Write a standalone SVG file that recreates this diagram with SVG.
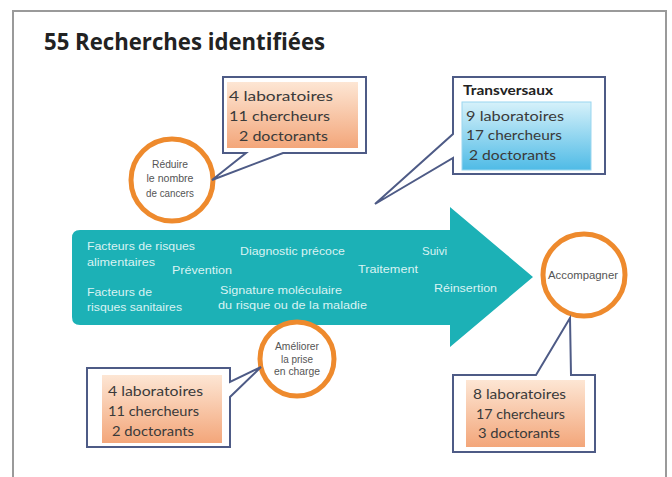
<svg xmlns="http://www.w3.org/2000/svg" width="672" height="477" viewBox="0 0 672 477">
<defs>
<linearGradient id="gOr" x1="0" y1="0" x2="0" y2="1">
<stop offset="0" stop-color="#fde6d4"/>
<stop offset="1" stop-color="#f3a67a"/>
</linearGradient>
<linearGradient id="gBl" x1="0" y1="0" x2="0" y2="1">
<stop offset="0" stop-color="#d6f1fa"/>
<stop offset="1" stop-color="#4fbbe6"/>
</linearGradient>
<style>
.frame{fill:#fff;stroke:#9a9a9a;stroke-width:2}
.call{fill:#fff;stroke:#4e5b86;stroke-width:2;stroke-linejoin:miter}
.bt{font-family:Lato,"Liberation Sans",sans-serif;font-size:14px;fill:#3a3a3a}
.at{font-family:"Liberation Sans",Arial,sans-serif;font-size:11px;fill:#d9f3f3}
.ct{font-family:"Liberation Sans",Arial,sans-serif;font-size:10px;fill:#555;text-anchor:middle}
.circ{fill:#fff;stroke:#ee8a2d;stroke-width:5}
</style>
</defs>
<rect x="0" y="0" width="672" height="477" fill="#fff"/>
<rect class="frame" x="13" y="11" width="653" height="480"/>
<text x="44" y="50" font-family="'Open Sans','Liberation Sans',sans-serif" font-weight="bold" font-size="23" fill="#222" textLength="281" lengthAdjust="spacingAndGlyphs">55 Recherches identifiées</text>

<g id="arrow">
<path d="M80,230 H450 V207 L533,277 L450,347 V325 H80 Q72,325 72,317 V238 Q72,230 80,230 Z" fill="#1cb1b6"/>
<text class="at" x="87" y="250" textLength="108" lengthAdjust="spacingAndGlyphs">Facteurs de risques</text>
<text class="at" x="87" y="266" textLength="68" lengthAdjust="spacingAndGlyphs">alimentaires</text>
<text class="at" x="172" y="274" textLength="60" lengthAdjust="spacingAndGlyphs">Prévention</text>
<text class="at" x="87" y="296" textLength="65" lengthAdjust="spacingAndGlyphs">Facteurs de</text>
<text class="at" x="87" y="311" textLength="95" lengthAdjust="spacingAndGlyphs">risques sanitaires</text>
<text class="at" x="240" y="255" textLength="105" lengthAdjust="spacingAndGlyphs">Diagnostic précoce</text>
<text class="at" x="220" y="294" textLength="122" lengthAdjust="spacingAndGlyphs">Signature moléculaire</text>
<text class="at" x="218" y="309" textLength="149" lengthAdjust="spacingAndGlyphs">du risque ou de la maladie</text>
<text class="at" x="358" y="273" textLength="60" lengthAdjust="spacingAndGlyphs">Traitement</text>
<text class="at" x="422" y="255" textLength="25" lengthAdjust="spacingAndGlyphs">Suivi</text>
<text class="at" x="434" y="292" textLength="63" lengthAdjust="spacingAndGlyphs">Réinsertion</text>
</g>

<g id="circle-reduire">
<circle class="circ" cx="172" cy="180" r="41"/>
<text class="ct" x="170" y="168" textLength="36" lengthAdjust="spacingAndGlyphs">Réduire</text>
<text class="ct" x="170" y="182" textLength="47" lengthAdjust="spacingAndGlyphs">le nombre</text>
<text class="ct" x="170" y="197" textLength="48" lengthAdjust="spacingAndGlyphs">de cancers</text>
</g>

<g id="circle-ameliorer">
<circle class="circ" cx="297" cy="359" r="37"/>
<text class="ct" x="297" y="350" textLength="44" lengthAdjust="spacingAndGlyphs">Améliorer</text>
<text class="ct" x="297" y="363" textLength="32" lengthAdjust="spacingAndGlyphs">la prise</text>
<text class="ct" x="297" y="375" textLength="46" lengthAdjust="spacingAndGlyphs">en charge</text>
</g>

<g id="circle-accompagner">
<circle class="circ" cx="584" cy="275" r="41"/>
<text class="ct" x="583" y="279" textLength="70" lengthAdjust="spacingAndGlyphs" fill="#333">Accompagner</text>
</g>

<g id="connectors">
<path class="call" d="M223,77 H366 V153 H283 L212,180 L246,153 H223 Z"/>
<path class="call" d="M453,77 H605 V174 H453 V158 L375,204 L453,134 Z"/>
<path class="call" d="M87,368 H230 V382 L261,367 L230,397 V447 H87 Z"/>
<path class="call" d="M453,375 H536 L570,318 L571,375 H595 V452 H453 Z"/>
</g>

<g id="box-reduire">
<rect x="227" y="82" width="131" height="66" fill="url(#gOr)"/>
<text class="bt" x="229" y="101" textLength="104" lengthAdjust="spacingAndGlyphs">4 laboratoires</text>
<text class="bt" x="229" y="121" textLength="101" lengthAdjust="spacingAndGlyphs">11 chercheurs</text>
<text class="bt" x="239" y="141" textLength="89" lengthAdjust="spacingAndGlyphs">2 doctorants</text>
</g>

<g id="box-transversaux">
<text x="463" y="95" font-family="Lato,'Liberation Sans',sans-serif" font-weight="bold" font-size="12.5" fill="#222" textLength="90" lengthAdjust="spacingAndGlyphs">Transversaux</text>
<rect x="462" y="102" width="129" height="68" fill="url(#gBl)" stroke="#9ad6ef" stroke-width="1"/>
<text class="bt" x="466" y="121" textLength="98" lengthAdjust="spacingAndGlyphs">9 laboratoires</text>
<text class="bt" x="466" y="140" textLength="96" lengthAdjust="spacingAndGlyphs">17 chercheurs</text>
<text class="bt" x="469" y="160" textLength="87" lengthAdjust="spacingAndGlyphs">2 doctorants</text>
</g>

<g id="box-ameliorer">
<rect x="102" y="375" width="120" height="68" fill="url(#gOr)"/>
<text class="bt" x="108" y="396" textLength="95" lengthAdjust="spacingAndGlyphs">4 laboratoires</text>
<text class="bt" x="108" y="416" textLength="91" lengthAdjust="spacingAndGlyphs">11 chercheurs</text>
<text class="bt" x="112" y="436" textLength="82" lengthAdjust="spacingAndGlyphs">2 doctorants</text>
</g>

<g id="box-accompagner">
<rect x="466" y="380" width="119" height="67" fill="url(#gOr)"/>
<text class="bt" x="473" y="399" textLength="93" lengthAdjust="spacingAndGlyphs">8 laboratoires</text>
<text class="bt" x="476" y="419" textLength="89" lengthAdjust="spacingAndGlyphs">17 chercheurs</text>
<text class="bt" x="478" y="438" textLength="82" lengthAdjust="spacingAndGlyphs">3 doctorants</text>
</g>
</svg>
